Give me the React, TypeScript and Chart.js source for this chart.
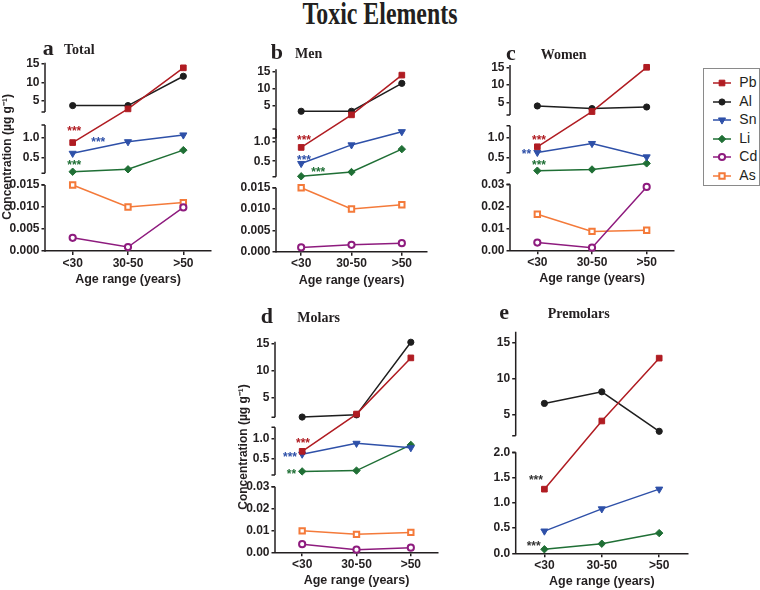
import React, { useEffect, useRef } from 'react';
import { Chart, registerables, LinearScale } from 'chart.js';
import { drawPoint } from 'chart.js/helpers';

Chart.register(...registerables);

// ---------------- data ----------------
const ageGroups = ['<30', '30-50', '>50'];
const elementNames = ['Pb', 'Al', 'Sn', 'Li', 'Cd', 'As'];

// a  Total
const totalPb = [0.87, 2.8, 14.0];
const totalAl = [3.7, 3.7, 11.7];
const totalSn = [0.6, 0.89, 1.06];
const totalLi = [0.14, 0.2, 0.68];
const totalCd = [0.003, 0.0009, 0.0099];
const totalAs = [0.015, 0.01, 0.011];
// b  Men
const menPb = [0.855, 2.4, 14.0];
const menAl = [3.45, 3.45, 11.6];
const menSn = [0.44, 0.92, 1.26];
const menLi = [0.11, 0.22, 0.81];
const menCd = [0.001, 0.0016, 0.002];
const menAs = [0.015, 0.01, 0.011];
// c  Women
const womenPb = [0.77, 2.35, 15.0];
const womenAl = [3.95, 3.2, 3.65];
const womenSn = [0.63, 0.85, 0.52];
const womenLi = [0.18, 0.21, 0.36];
const womenCd = [0.0035, 0.0012, 0.0288];
const womenAs = [0.0164, 0.0086, 0.0091];
// d  Molars
const molarsPb = [0.69, 1.9, 12.3];
const molarsAl = [1.35, 1.75, 15.2];
const molarsSn = [0.62, 0.89, 0.78];
const molarsLi = [0.19, 0.21, 0.85];
const molarsCd = [0.0037, 0.0012, 0.0021];
const molarsAs = [0.0098, 0.0082, 0.0091];
// e  Premolars
const premolarsPb = [1.27, 4.17, 12.85];
const premolarsAl = [6.6, 8.2, 2.75];
const premolarsSn = [0.44, 0.88, 1.27];
const premolarsLi = [0.08, 0.19, 0.4];

// tick values / labels of the broken y axes
const tickValuesFine = [0, 0.005, 0.01, 0.015, 0.5, 1, 5, 10, 15];
const tickLabelsFine = ['0.000', '0.005', '0.010', '0.015', '0.5', '1.0', '5', '10', '15'];
const tickValuesCoarse = [0, 0.01, 0.02, 0.03, 0.5, 1, 5, 10, 15];
const tickLabelsCoarse = ['0.00', '0.01', '0.02', '0.03', '0.5', '1.0', '5', '10', '15'];
const tickValuesPremolar = [0, 0.5, 1, 1.5, 2, 5, 10, 15];
const tickLabelsPremolar = ['0.0', '0.5', '1.0', '1.5', '2.0', '5', '10', '15'];

// ---------------- styles ----------------
const TEXT = '#231f20';
const AXIS = '#231f20';
const STYLES: Record<string, any> = {
  Pb: { color: '#B01C22', fill: '#B01C22', pointStyle: 'rect', radius: 4.0, borderWidth: 1, rotation: 0 },
  Al: { color: '#1E1E1E', fill: '#1E1E1E', pointStyle: 'circle', radius: 3.1, borderWidth: 1, rotation: 0 },
  Sn: { color: '#2E50A8', fill: '#2E50A8', pointStyle: 'triangle', radius: 4.1, borderWidth: 1, rotation: 180 },
  Li: { color: '#1F6F35', fill: '#1F6F35', pointStyle: 'rectRot', radius: 3.7, borderWidth: 1, rotation: 0 },
  Cd: { color: '#8E1B7E', fill: '#FFFFFF', pointStyle: 'circle', radius: 3.1, borderWidth: 2, rotation: 0 },
  As: { color: '#F47A3A', fill: '#FFFFFF', pointStyle: 'rect', radius: 3.8, borderWidth: 2, rotation: 0 },
};

// ---------------- broken axis scale ----------------
type Seg = { min: number; max: number; px: number };
type AxisDef = { segments: Seg[]; gaps: number[]; ticks: number[]; labels: string[] };
const AXES: Record<string, AxisDef> = {};

class BrokenAxis extends LinearScale {
  static id = 'brokenAxis';
  static defaults = (LinearScale as any).defaults;

  def(): AxisDef {
    return AXES[(this as any).options.axisKey];
  }
  determineDataLimits() {
    const d = this.def();
    (this as any).min = d.segments[0].min;
    (this as any).max = d.segments[d.segments.length - 1].max;
  }
  buildTicks() {
    return this.def().ticks.map((v) => ({ value: v }));
  }
  total() {
    const { segments, gaps } = this.def();
    return segments.reduce((a, s) => a + s.px, 0) + gaps.reduce((a, g) => a + g, 0);
  }
  decimalOf(value: number) {
    const { segments, gaps } = this.def();
    const total = this.total();
    let pos = 0;
    for (let i = 0; i < segments.length; i++) {
      const s = segments[i];
      if (value < s.min && i > 0) {
        const prev = segments[i - 1];
        const g = gaps[i - 1];
        const f = (value - prev.max) / (s.min - prev.max);
        return (pos - g + f * g) / total;
      }
      if (value <= s.max || i === segments.length - 1) {
        return (pos + ((value - s.min) / (s.max - s.min)) * s.px) / total;
      }
      pos += s.px + gaps[i];
    }
    return 0;
  }
  getPixelForValue(value: any) {
    if (value === null || value === undefined || Number.isNaN(value)) return NaN;
    return (this as any).getPixelForDecimal(this.decimalOf(+value));
  }
  getValueForPixel(pixel: number) {
    const { segments, gaps } = this.def();
    const pos = (this as any).getDecimalForPixel(pixel) * this.total();
    let acc = 0;
    for (let i = 0; i < segments.length; i++) {
      const s = segments[i];
      if (pos <= acc + s.px || i === segments.length - 1) return s.min + ((pos - acc) / s.px) * (s.max - s.min);
      acc += s.px;
      const g = gaps[i];
      if (pos <= acc + g) return s.max + ((pos - acc) / g) * (segments[i + 1].min - s.max);
      acc += g;
    }
    return (this as any).max;
  }
  drawBorder() {
    const self: any = this;
    const ctx: CanvasRenderingContext2D = self.ctx;
    const border = self.options.border;
    if (!border.display) return;
    const tl = self.options.grid.tickLength;
    const x = self.right;
    const { segments } = this.def();
    ctx.save();
    ctx.strokeStyle = border.color;
    ctx.lineWidth = border.width;
    ctx.lineCap = 'butt';
    segments.forEach((s, i) => {
      const y1 = this.getPixelForValue(s.min);
      const y2 = this.getPixelForValue(s.max);
      ctx.beginPath();
      ctx.moveTo(x, y1 + (i === 0 ? border.width / 2 : 0));
      ctx.lineTo(x, y2);
      if (i > 0) {
        ctx.moveTo(x, y1);
        ctx.lineTo(x - tl, y1);
      }
      if (i < segments.length - 1) {
        ctx.moveTo(x, y2);
        ctx.lineTo(x - tl, y2);
      }
      ctx.stroke();
    });
    ctx.restore();
  }
}
Chart.register(BrokenAxis as any);
Chart.defaults.font.family = '"Liberation Sans", Arial, Helvetica, sans-serif';

// ---------------- panels ----------------
const PANELS: any[] = [
  {
    key: 'a', letter: 'a', name: 'Total',
    values: { Pb: totalPb, Al: totalAl, Sn: totalSn, Li: totalLi, Cd: totalCd, As: totalAs },
    ticks: tickValuesFine, labels: tickLabelsFine,
    segments: [{ min: 0, max: 0.015, px: 66 }, { min: 0.1, max: 1.31, px: 48.3 }, { min: 1.95, max: 15.4, px: 49.3 }],
    gaps: [11.7, 13],
    box: { left: 0, top: 40, width: 217, height: 247 },
    pad: { left: 0, top: 22.7, right: 0, bottom: 0 },
    yWidth: 45, yTitle: true,
    stars: [
      { text: '***', color: STYLES.Pb.color, cat: 0, dx: 1.6, value: 1.225 },
      { text: '***', color: STYLES.Sn.color, cat: 0, dx: 25.6, value: 0.95 },
      { text: '***', color: STYLES.Li.color, cat: 0, dx: 1.6, value: 0.375 },
    ],
    letterAt: [42.7, 37.4], nameAt: [64, 42.8],
  },
  {
    key: 'b', letter: 'b', name: 'Men',
    values: { Pb: menPb, Al: menAl, Sn: menSn, Li: menLi, Cd: menCd, As: menAs },
    ticks: tickValuesFine, labels: tickLabelsFine,
    segments: [{ min: 0, max: 0.015, px: 64 }, { min: 0.1, max: 1.33, px: 47.7 }, { min: 1.1, max: 15.7, px: 50 }],
    gaps: [11, 9.7],
    box: { left: 230, top: 40, width: 203, height: 248 },
    pad: { left: 0, top: 29.3, right: 0, bottom: 0.3 },
    yWidth: 46, yTitle: false,
    stars: [
      { text: '***', color: STYLES.Pb.color, cat: 0, dx: 2.8, value: 1.11 },
      { text: '***', color: STYLES.Sn.color, cat: 0, dx: 2.8, value: 0.61 },
      { text: '***', color: STYLES.Li.color, cat: 0, dx: 17.1, value: 0.285 },
    ],
    letterAt: [270.7, 40.7], nameAt: [295, 46.6],
  },
  {
    key: 'c', letter: 'c', name: 'Women',
    values: { Pb: womenPb, Al: womenAl, Sn: womenSn, Li: womenLi, Cd: womenCd, As: womenAs },
    ticks: tickValuesCoarse, labels: tickLabelsCoarse,
    segments: [{ min: 0, max: 0.03, px: 66 }, { min: 0.13, max: 1.29, px: 47 }, { min: 1.37, max: 15.66, px: 50 }],
    gaps: [11.6, 10.7],
    box: { left: 462, top: 40, width: 218, height: 247 },
    pad: { left: 0, top: 25, right: 0, bottom: 0.7 },
    yWidth: 48, yTitle: false,
    stars: [
      { text: '***', color: STYLES.Pb.color, cat: 0, dx: 1.7, value: 1.015 },
      { text: '**', color: STYLES.Sn.color, cat: 0, dx: -10.8, value: 0.67 },
      { text: '***', color: STYLES.Li.color, cat: 0, dx: 1.7, value: 0.38 },
    ],
    letterAt: [506, 41.7], nameAt: [540.7, 47.6],
  },
  {
    key: 'd', letter: 'd', name: 'Molars',
    values: { Pb: molarsPb, Al: molarsAl, Sn: molarsSn, Li: molarsLi, Cd: molarsCd, As: molarsAs },
    ticks: tickValuesCoarse, labels: tickLabelsCoarse,
    segments: [{ min: 0, max: 0.03, px: 65.6 }, { min: 0.1, max: 1.29, px: 47.7 }, { min: 1.3, max: 15.3, px: 75.6 }],
    gaps: [11.7, 10],
    box: { left: 236, top: 300, width: 208, height: 289 },
    pad: { left: 0, top: 41.7, right: 0, bottom: 0.7 },
    yWidth: 39, yTitle: true,
    stars: [
      { text: '***', color: STYLES.Pb.color, cat: 0, dx: 0.8, value: 0.96 },
      { text: '***', color: STYLES.Sn.color, cat: 0, dx: -12.2, value: 0.62 },
      { text: '**', color: STYLES.Li.color, cat: 0, dx: -10.7, value: 0.19 },
    ],
    letterAt: [260.7, 304.7], nameAt: [297.3, 310.6],
  },
  {
    key: 'e', letter: 'e', name: 'Premolars',
    values: { Pb: premolarsPb, Al: premolarsAl, Sn: premolarsSn, Li: premolarsLi },
    ticks: tickValuesPremolar, labels: tickLabelsPremolar,
    segments: [{ min: 0, max: 2, px: 101 }, { min: 2.14, max: 16.5, px: 104 }],
    gaps: [16.6],
    box: { left: 470, top: 300, width: 223, height: 290 },
    pad: { left: 0, top: 31.7, right: 0.3, bottom: 0.7 },
    yWidth: 45.7, yTitle: false,
    stars: [
      { text: '***', color: '#333333', cat: 0, dx: -8.5, value: 1.5 },
      { text: '***', color: '#333333', cat: 0, dx: -10.7, value: 0.2 },
    ],
    letterAt: [499.3, 301.4], nameAt: [547.7, 307.3],
  },
];

PANELS.forEach((p) => {
  AXES[p.key] = { segments: p.segments, gaps: p.gaps, ticks: p.ticks, labels: p.labels };
});

function starsPlugin(stars: any[]) {
  return {
    id: 'stars',
    afterDatasetsDraw(chart: any) {
      const { ctx } = chart;
      const xs = chart.scales.x;
      const ys = chart.scales.y;
      ctx.save();
      ctx.font = 'bold 12px "Liberation Sans", Arial, sans-serif';
      ctx.textAlign = 'center';
      ctx.textBaseline = 'alphabetic';
      stars.forEach((s) => {
        ctx.fillStyle = s.color;
        ctx.fillText(s.text, xs.getPixelForValue(s.cat) + s.dx, ys.getPixelForValue(s.value) + 6.7);
      });
      ctx.restore();
    },
  };
}

function buildConfig(p: any): any {
  const datasets = elementNames
    .filter((el) => p.values[el])
    .map((el) => {
      const st = STYLES[el];
      return {
        label: el,
        data: p.values[el],
        borderColor: st.color,
        backgroundColor: st.fill,
        borderWidth: 1.5,
        tension: 0,
        clip: false,
        pointStyle: st.pointStyle,
        pointRadius: st.radius,
        pointRotation: st.rotation,
        pointBackgroundColor: st.fill,
        pointBorderColor: st.color,
        pointBorderWidth: st.borderWidth,
      };
    });
  return {
    type: 'line',
    data: { labels: ageGroups, datasets },
    plugins: [starsPlugin(p.stars)],
    options: {
      responsive: false,
      animation: false,
      events: [],
      layout: { padding: p.pad },
      plugins: { legend: { display: false }, tooltip: { enabled: false } },
      scales: {
        x: {
          type: 'category',
          offset: true,
          afterFit: (s: any) => { s.height = 36; },
          grid: { display: true, drawOnChartArea: false, drawTicks: true, tickLength: 4, offset: false, color: AXIS, lineWidth: 1.5 },
          border: { display: true, color: AXIS, width: 1.5 },
          ticks: { color: TEXT, font: { size: 12, weight: 'bold' }, padding: 1, maxRotation: 0, autoSkip: false },
          title: { display: true, text: 'Age range (years)', color: TEXT, font: { size: 12.5, weight: 'bold' }, padding: 0 },
        },
        y: {
          type: 'brokenAxis',
          axisKey: p.key,
          position: 'left',
          afterFit: (s: any) => { s.width = p.yWidth; },
          grid: { display: true, drawOnChartArea: false, drawTicks: true, tickLength: 3.5, color: AXIS, lineWidth: 1.5 },
          border: { display: true, color: AXIS, width: 1.5 },
          ticks: {
            autoSkip: false,
            padding: 2,
            color: TEXT,
            font: { size: 12, weight: 'bold' },
            callback: (v: any) => {
              const i = p.ticks.indexOf(v);
              return i >= 0 ? p.labels[i] : String(v);
            },
          },
          title: { display: p.yTitle, text: 'Concentration (µg g⁻¹)', color: TEXT, font: { size: 12, weight: 'bold' }, padding: 0 },
        },
      },
    },
  };
}

const SERIF = '"Liberation Serif", "Times New Roman", serif';

export default function App() {
  const canvasRefs = useRef<(HTMLCanvasElement | null)[]>([]);
  const legendRefs = useRef<(HTMLCanvasElement | null)[]>([]);

  useEffect(() => {
    const charts = PANELS.map((p, i) => new Chart(canvasRefs.current[i] as HTMLCanvasElement, buildConfig(p)));
    legendRefs.current.forEach((c, i) => {
      if (!c) return;
      const ctx = c.getContext('2d');
      if (!ctx) return;
      const st = STYLES[elementNames[i]];
      ctx.clearRect(0, 0, c.width, c.height);
      ctx.strokeStyle = st.color;
      ctx.lineWidth = 1.5;
      ctx.beginPath();
      ctx.moveTo(2, 7);
      ctx.lineTo(20, 7);
      ctx.stroke();
      ctx.fillStyle = st.fill;
      ctx.strokeStyle = st.color;
      ctx.lineWidth = st.borderWidth;
      drawPoint(ctx, { pointStyle: st.pointStyle, rotation: st.rotation, radius: st.radius, borderWidth: st.borderWidth } as any, 11, 7);
    });
    return () => charts.forEach((c) => c.destroy());
  }, []);

  return (
    <div style={{ position: 'absolute', left: 0, top: 0, width: 760, height: 590, background: '#ffffff', overflow: 'hidden' }}>
      <div
        style={{
          position: 'absolute', left: 0, top: -2.5, width: 760, textAlign: 'center',
          font: `bold 31px ${SERIF}`, lineHeight: 1, color: TEXT, transform: 'scaleX(0.77)',
        }}
      >
        Toxic Elements
      </div>
      {PANELS.map((p, i) => (
        <canvas
          key={p.key}
          ref={(el) => { canvasRefs.current[i] = el; }}
          width={p.box.width}
          height={p.box.height}
          style={{ position: 'absolute', left: p.box.left, top: p.box.top }}
        />
      ))}
      {PANELS.map((p) => (
        <React.Fragment key={'t' + p.key}>
          <div style={{ position: 'absolute', left: p.letterAt[0], top: p.letterAt[1], font: `bold 22px ${SERIF}`, lineHeight: 1, color: TEXT }}>
            {p.letter}
          </div>
          <div style={{ position: 'absolute', left: p.nameAt[0], top: p.nameAt[1], font: `bold 14px ${SERIF}`, lineHeight: 1, color: TEXT, whiteSpace: 'nowrap' }}>
            {p.name}
          </div>
        </React.Fragment>
      ))}
      <div style={{ position: 'absolute', left: 703, top: 68, width: 57, height: 118, boxSizing: 'border-box', border: '1px solid #8a8a8a' }} />
      {elementNames.map((el, i) => {
        const cy = 83.3 + 18.5 * i;
        return (
          <React.Fragment key={'l' + el}>
            <canvas
              ref={(c) => { legendRefs.current[i] = c; }}
              width={22}
              height={14}
              style={{ position: 'absolute', left: 710.7, top: cy - 7 }}
            />
            <div style={{ position: 'absolute', left: 739.3, top: cy - 9, height: 18, lineHeight: '18px', font: '14px "Liberation Sans", Arial, sans-serif', color: TEXT }}>
              {el}
            </div>
          </React.Fragment>
        );
      })}
    </div>
  );
}
